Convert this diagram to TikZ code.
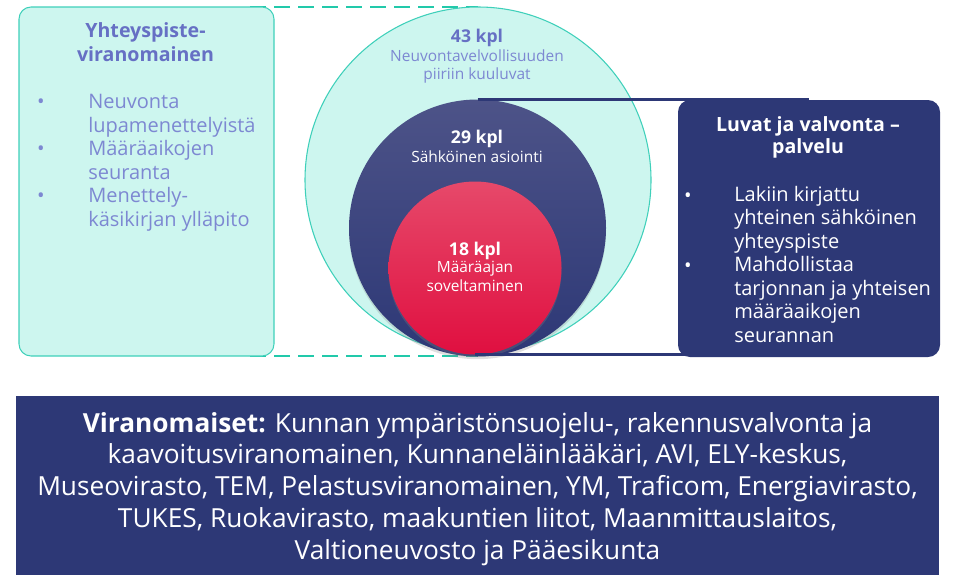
\documentclass[tikz,border=0pt]{standalone}
\usepackage{fontspec}
\setmainfont{Open Sans}
\usetikzlibrary{positioning, calc, shadows}
\definecolor{tealfill}{HTML}{CDF6EF}
\definecolor{tealline}{HTML}{3FD0BA}
\definecolor{tealdash}{HTML}{22C9AA}
\definecolor{navy}{HTML}{2D3876}
\definecolor{navytop}{HTML}{4D5388}
\definecolor{redbot}{HTML}{E00F40}
\definecolor{redtop}{HTML}{E6496A}
\definecolor{perititle}{HTML}{6670C4}
\definecolor{peritext}{HTML}{7D88D2}

\begin{document}
\begin{tikzpicture}[x=0.75pt, y=-0.75pt,
  panel/.style={rounded corners=9pt, inner sep=0pt, outer sep=0pt},
  ring/.style={circle, inner sep=0pt, outer sep=0pt},
  title/.style={font=\fontsize{14.7}{18}\selectfont\bfseries, align=center, anchor=base, inner sep=0pt},
  item/.style={font=\fontsize{15}{17.6}\selectfont, align=left, anchor=base west, inner sep=0pt},
  dot/.style={font=\fontsize{15}{17.6}\selectfont, anchor=base, inner sep=0pt},
  count/.style={font=\fontsize{13.2}{15}\selectfont\bfseries, anchor=base, inner sep=0pt},
  sub/.style={font=\fontsize{11.6}{12.8}\selectfont, align=center, anchor=base, inner sep=0pt},
]
\useasboundingbox (0,0) rectangle (953,575);

% dashed frame behind the left panel
\node[ring, minimum size=259.5pt] (big) at (478,180) {};
\coordinate (dtop) at (250,7);
\coordinate (dbot) at (250,356);
\draw[tealdash, line width=2.2pt, dash pattern=on 12pt off 6pt] (dtop) -- (dtop -| big.north);
\draw[tealdash, line width=2.2pt, dash pattern=on 12pt off 6pt] (dbot) -- (dbot -| big.south);

% left panel (multi-line nodes sit on their last baseline)
\node[panel, draw=tealline, fill=tealfill, line width=0.8pt, minimum width=191.25pt, minimum height=261.75pt] (vira) at (146.5,181.5) {};
\node[title, text=perititle] (viratitle) at (145.5,61) {Yhteyspiste-\\viranomainen};
\node[item, text=peritext] (viralist) at (88,226) {Neuvonta\\lupamenettelyistä\\Määräaikojen\\seuranta\\Menettely-\\käsikirjan ylläpito};
\foreach \y in {108,155,202}
  \node[dot, text=peritext] at (41,\y) {•};

% circles
\fill[tealfill] (big.center) circle (173);
\draw[tealline, line width=0.8pt] (big.center) circle (173);
\node[ring, minimum size=192.75pt, top color=navytop, bottom color=navy, drop shadow={opacity=0.25, shadow xshift=0pt, shadow yshift=-2pt}] (sahko) at (477.5,228) {};
\node[ring, minimum size=129.75pt, top color=redtop, bottom color=redbot, drop shadow={opacity=0.3, shadow xshift=0pt, shadow yshift=-2pt}] (maara) at (475,268) {};

\node[count, text=perititle] (c43) at (477,42) {43 kpl};
\node[sub, text=peritext] (t43) at (477,79) {Neuvontavelvollisuuden\\piiriin kuuluvat};
\node[count, text=white] (c29) at (477,143) {29 kpl};
\node[sub, text=white] (t29) at (477,162) {Sähköinen asiointi};
\node[count, text=white] (c18) at (475,255) {18 kpl};
\node[sub, text=white, font=\fontsize{11.6}{14.2}\selectfont] (t18) at (475,291) {Määräajan\\soveltaminen};

% right panel and its connectors
\node[panel, fill=navy, minimum width=196.5pt, minimum height=192.75pt] (luvat) at (809,228.5) {};
\draw[navy, line width=1.6pt] (sahko.north) -- (sahko.north -| luvat.center);
\draw[navy, line width=1.6pt] (maara.south) -- (maara.south -| luvat.center);
\node[title, text=white, font=\fontsize{14.7}{16.5}\selectfont\bfseries] (luvattitle) at (808,153) {Luvat ja valvonta –\\palvelu};
\node[item, text=white] (luvatlist) at (734,342) {Lakiin kirjattu\\yhteinen sähköinen\\yhteyspiste\\Mahdollistaa\\tarjonnan ja yhteisen\\määräaikojen\\seurannan};
\foreach \y in {202,272}
  \node[dot, text=white] at (688,\y) {•};

% bottom panel
\node[inner sep=0pt, outer sep=0pt, fill=navy, minimum width=692.25pt, minimum height=134.25pt] (viranom) at (477.5,485.5) {};
\node[font=\fontsize{19.7}{23.8}\selectfont, text=white, align=center, anchor=base, inner sep=0pt] (viranomtext) at (477.5,559)
  {\textbf{Viranomaiset:} Kunnan ympäristönsuojelu-, rakennusvalvonta ja\\kaavoitusviranomainen, Kunnaneläinlääkäri, AVI, ELY-keskus,\\Museovirasto, TEM, Pelastusviranomainen, YM, Traficom, Energiavirasto,\\TUKES, Ruokavirasto, maakuntien liitot, Maanmittauslaitos,\\Valtioneuvosto ja Pääesikunta};
\end{tikzpicture}
\end{document}
